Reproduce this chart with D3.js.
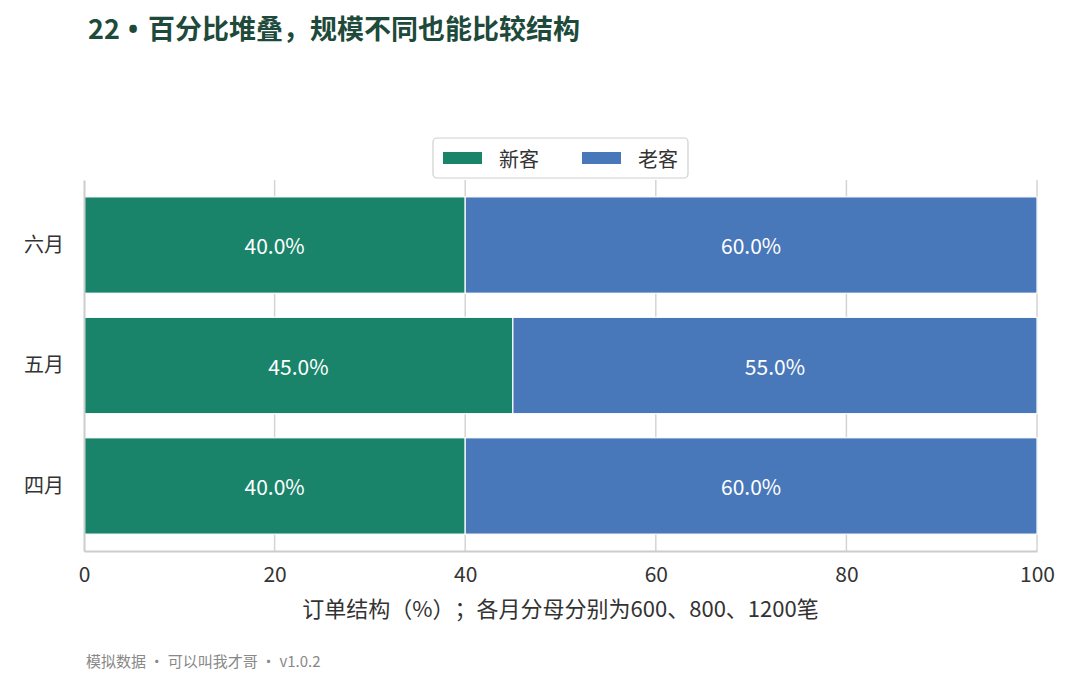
<!DOCTYPE html>
<meta charset="utf-8">
<script src="https://d3js.org/d3.v7.min.js"></script>
<style>
  body { margin: 0; background: #fff; }
  text { font-family: "Noto Sans CJK SC", "Noto Sans", sans-serif; text-spacing-trim: space-all; }
</style>
<div id="chart"></div>
<script>
// 百分比堆叠条形图
const months = ["四月", "五月", "六月"];
const newShare = [40.0, 45.0, 40.0];
const oldShare = [60.0, 55.0, 60.0];
const seriesNames = ["新客", "老客"];
const xTicks = [0, 20, 40, 60, 80, 100];

const width = 1080
const height = 675
const colors = ["#1a846a", "#4878b9"]

const svg = d3.select("#chart")
    .append("svg")
    .attr("width", width)
    .attr("height", height)

const x = d3.scaleLinear().domain([0, 100]).range([84, 1037])
const y = d3.scaleLinear().domain([-0.54, 2.54]).range([551, 180])
const barH = y(0) - y(0.8)

// title
const title = svg.append("text").attr("x", 88).attr("y", 39)
    .style("font-size", "27px").style("font-weight", "bold").style("fill", "#1e4a3b")
title.append("tspan").text("22")
title.append("tspan").attr("x", 128).style("font-family", "'Noto Sans', sans-serif").text("•")
title.append("tspan").attr("x", 148).text("百分比堆叠，规模不同也能比较结构")

// grid
svg.append("g").selectAll("line")
    .data(xTicks.slice(1))
    .join("line")
      .attr("x1", d => x(d)).attr("x2", d => x(d))
      .attr("y1", 180).attr("y2", 551)
      .style("stroke", "#d4d4d4").style("stroke-width", 1.5)

const rows = months.map((m, i) => ({month: m, i: i, vals: [newShare[i], oldShare[i]]}))

rows.forEach(r => {
  let start = 0
  r.vals.forEach((v, k) => {
    svg.append("rect")
      .attr("x", x(start))
      .attr("y", y(r.i) - barH / 2)
      .attr("width", x(start + v) - x(start))
      .attr("height", barH)
      .style("fill", colors[k])
      .style("stroke", "white").style("stroke-width", 1.2)
    svg.append("text")
      .attr("x", x(start + v / 2))
      .attr("y", y(r.i))
      .attr("text-anchor", "middle")
      .attr("dominant-baseline", "central")
      .text(v.toFixed(1) + "%")
      .style("font-size", "21px").style("fill", "white")
    start += v
  })
})

// axes
const xAxis = svg.append("g").attr("transform", "translate(0,551)")
    .call(d3.axisBottom(x).tickValues(xTicks).tickSize(0).tickPadding(16))
xAxis.select(".domain").style("stroke", "#cccccc").style("stroke-width", 2)
xAxis.selectAll("text").style("font-size", "21px").style("fill", "#333")

const yAxis = svg.append("g").attr("transform", "translate(84,0)")
    .call(d3.axisLeft(y).tickValues(d3.range(months.length)).tickFormat(i => months[i]).tickSize(0).tickPadding(20))
yAxis.select(".domain").style("stroke", "#cccccc").style("stroke-width", 2)
yAxis.selectAll("text").style("font-size", "20px").style("fill", "#333")

svg.append("text").attr("x", (x(0) + x(100)) / 2).attr("y", 617)
    .attr("text-anchor", "middle")
    .text("订单结构（%）；各月分母分别为600、800、1200笔")
    .style("font-size", "22px").style("fill", "#333")

// legend
svg.append("rect").attr("x", 433).attr("y", 138).attr("width", 255).attr("height", 40)
    .attr("rx", 4).style("fill", "white").style("stroke", "#d0d0d0").style("stroke-width", 1.2)
const legX = [443, 582]
seriesNames.forEach((n, k) => {
  svg.append("rect").attr("x", legX[k]).attr("y", 152).attr("width", 39).attr("height", 12).style("fill", colors[k])
  svg.append("text").attr("x", legX[k] + 56).attr("y", 158).attr("dominant-baseline", "central")
    .text(n).style("font-size", "20px").style("fill", "#333")
})

// footer
svg.append("text").attr("x", 86).attr("y", 667)
    .text("模拟数据 · 可以叫我才哥 · v1.0.2")
    .style("font-size", "15px").style("fill", "#888")
</script>
